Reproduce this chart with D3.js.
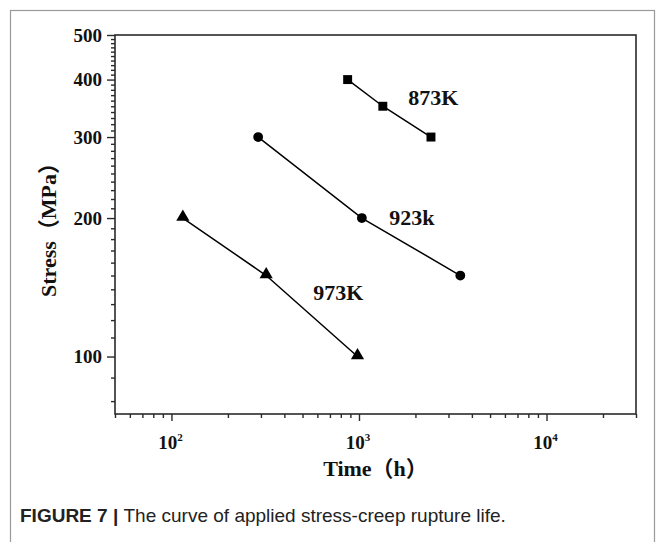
<!DOCTYPE html>
<html>
<head>
<meta charset="utf-8">
<script src="https://cdn.jsdelivr.net/npm/d3@7"></script>
<style>
  html, body { margin: 0; padding: 0; background: #fff; }
  svg { display: block; }
</style>
</head>
<body>
<svg id="chart" width="664" height="542"></svg>
<script>
// ---- data ----
const seriesNames = ["873K", "923k", "973K"];
const time873 = [870, 1340, 2420];
const stress873 = [400, 350, 300];
const time923 = [290, 1036, 3470];
const stress923 = [300, 200, 150];
const time973 = [115, 320, 982];
const stress973 = [200, 150, 100];
const xMajorTicks = [100, 1000, 10000];
const xMajorExponents = ["2", "3", "4"];
const yMajorTicks = [100, 200, 300, 400, 500];
const xDomain = [50, 30000];
const yDomain = [75, 500];
// label anchors in data units (time, stress)
const labelTime = [1830, 1449, 570];
const labelStress = [352, 193, 133];

(function () {
const svg = d3.select("#chart");
const mLeft = 115, mRight = 636, mTop = 35, mBottom = 414;
const serif = "'Liberation Serif', 'Times New Roman', 'Noto Sans CJK SC', serif";

// outer frame
svg.append("rect").attr("x", 10.5).attr("y", 10.5).attr("width", 644).attr("height", 600)
  .attr("fill", "none").attr("stroke", "#9a9a9a").attr("stroke-width", 1.2);

const x = d3.scaleLog().domain(xDomain).range([mLeft, mRight]);
const y = d3.scaleLog().domain(yDomain).range([mBottom, mTop]);

// minor ticks
const xMinor = [];
[10, 100, 1000, 10000].forEach(d => { for (let k = 2; k <= 9; k++) { const v = d * k; if (v >= xDomain[0] && v <= xDomain[1] && !xMajorTicks.includes(v)) xMinor.push(v); } });
const yMinor = [];
for (let v = 80; v < 500; v += 10) if (!yMajorTicks.includes(v)) yMinor.push(v);

const axisColor = "#2a2a2a";

// X axis
const gx = svg.append("g").attr("transform", `translate(0,${mBottom})`);
gx.call(d3.axisBottom(x).tickValues(xMinor).tickSize(4).tickFormat(""))
  .call(g => g.select(".domain").remove());
gx.append("g").call(d3.axisBottom(x).tickValues(xMajorTicks).tickSize(7).tickFormat(""))
  .call(g => g.select(".domain").remove());
gx.selectAll("line").attr("stroke", axisColor).attr("stroke-width", 1.4);

xMajorTicks.forEach((v, i) => {
  const t = svg.append("text").attr("x", x(v) - 1).attr("y", mBottom + 35)
    .attr("text-anchor", "middle").attr("font-family", serif).attr("font-weight", "bold")
    .attr("font-size", 19).attr("fill", "#111");
  t.append("tspan").text("10");
  t.append("tspan").attr("dy", -8).attr("font-size", 11).text(xMajorExponents[i]);
});

// Y axis
const gy = svg.append("g").attr("transform", `translate(${mLeft},0)`);
gy.call(d3.axisLeft(y).tickValues(yMinor).tickSize(4).tickFormat(""))
  .call(g => g.select(".domain").remove());
gy.append("g").call(d3.axisLeft(y).tickValues(yMajorTicks).tickSize(8).tickFormat(d => d).tickPadding(5))
  .call(g => g.select(".domain").remove())
  .selectAll("text").attr("font-family", serif).attr("font-weight", "bold")
  .attr("font-size", 19).attr("fill", "#111");
gy.selectAll("line").attr("stroke", axisColor).attr("stroke-width", 1.4);

// frame lines
svg.append("rect").attr("x", mLeft).attr("y", mTop).attr("width", mRight - mLeft).attr("height", mBottom - mTop)
  .attr("fill", "none").attr("stroke", axisColor).attr("stroke-width", 1.6);

// axis titles
svg.append("text").attr("x", (mLeft + mRight) / 2).attr("y", mBottom + 62)
  .attr("text-anchor", "middle").attr("font-family", serif).attr("font-weight", "bold")
  .attr("font-size", 22).attr("fill", "#111").text("Time（h）");
svg.append("text").attr("transform", `translate(56,${(mTop + mBottom) / 2}) rotate(-90)`)
  .attr("text-anchor", "middle").attr("font-family", serif).attr("font-weight", "bold")
  .attr("font-size", 22).attr("fill", "#111").text("Stress（MPa）");

// series
const series = [
  { t: time873, s: stress873, shape: d3.symbolSquare, size: 80 },
  { t: time923, s: stress923, shape: d3.symbolCircle, size: 75 },
  { t: time973, s: stress973, shape: d3.symbolTriangle, size: 75 }
];
const line = d3.line().x(d => x(d[0])).y(d => y(d[1]));
series.forEach((ser, i) => {
  const pts = ser.t.map((t, j) => [t, ser.s[j]]);
  svg.append("path").datum(pts).attr("d", line).attr("fill", "none")
    .attr("stroke", "#000").attr("stroke-width", 1.5);
  svg.selectAll(null).data(pts).enter().append("path")
    .attr("transform", d => `translate(${x(d[0])},${y(d[1]) - (ser.shape === d3.symbolTriangle ? 1 : 0)})`)
    .attr("d", d3.symbol().type(ser.shape).size(ser.size)).attr("fill", "#000");
  svg.append("text").attr("x", x(labelTime[i])).attr("y", y(labelStress[i]))
    .attr("font-family", serif).attr("font-weight", "bold").attr("font-size", 22)
    .attr("fill", "#111").text(seriesNames[i]);
});

// caption
const cap = svg.append("text").attr("x", 20).attr("y", 522)
  .attr("font-family", "'Liberation Sans', Arial, sans-serif").attr("font-size", 19).attr("fill", "#222");
cap.append("tspan").attr("font-weight", "bold").text("FIGURE 7 | ");
cap.append("tspan").text("The curve of applied stress-creep rupture life.");
})();
</script>
</body>
</html>
